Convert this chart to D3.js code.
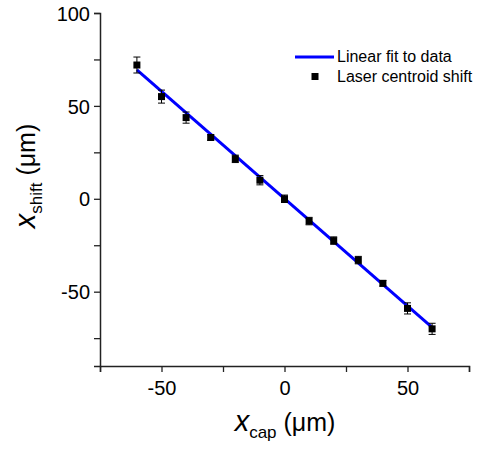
<!DOCTYPE html>
<html>
<head>
<meta charset="utf-8">
<script src="https://cdn.jsdelivr.net/npm/d3@7"></script>
<style>
  body { margin: 0; background: #fff; }
  text { font-family: "Liberation Sans", Arial, sans-serif; fill: #000; }
</style>
</head>
<body>
<div id="chart-area"></div>
<script>
// data
var xCap = [-60, -50, -40, -30, -20, -10, 0, 10, 20, 30, 40, 50, 60];
var xShift = [72, 55, 43.7, 33, 21.5, 10, 0, -12, -22.5, -33, -45.5, -59, -70];
var errors = [4.3, 3.5, 3, 1.5, 2, 2.5, 2, 2, 2, 2, 1.5, 3, 3];
var fitSlope = -1.155;
var fitIntercept = 0.1;
var xTicks = [-75, -50, -25, 0, 25, 50, 75];
var xLabels = [-50, 0, 50];
var yTicks = [100, 75, 50, 25, 0, -25, -50, -75];
var yLabels = [100, 50, 0, -50];

var width = 477, height = 455;
var margin = {left: 100, right: 8, top: 13, bottom: 89};

var svg = d3.select("#chart-area")
    .append("svg")
    .attr("width", width)
    .attr("height", height);

var x = d3.scaleLinear()
    .domain([-75, 75])
    .range([margin.left, width - margin.right]);

var y = d3.scaleLinear()
    .domain([-90, 100])
    .range([height - margin.bottom, margin.top]);

// axes
var xAxis = d3.axisBottom(x)
    .tickValues(xTicks)
    .tickSizeOuter(0)
    .tickSize(6)
    .tickFormat(function(d) { return xLabels.indexOf(d) >= 0 ? d : ""; });

var yAxis = d3.axisLeft(y)
    .tickValues(yTicks)
    .tickSizeOuter(0)
    .tickSize(6)
    .tickFormat(function(d) { return yLabels.indexOf(d) >= 0 ? d : ""; });

var gx = svg.append("g")
    .attr("transform", "translate(0," + y(-90) + ")")
    .call(xAxis);

var gy = svg.append("g")
    .attr("transform", "translate(" + x(-75) + ",0)")
    .call(yAxis);

[gx, gy].forEach(function(g) {
    g.select(".domain").attr("stroke", "#222").attr("stroke-width", 1.5);
    g.selectAll(".tick line").attr("stroke", "#222").attr("stroke-width", 1.3);
    g.selectAll(".tick text")
        .attr("font-family", "Liberation Sans, Arial, sans-serif")
        .attr("font-size", 20)
        .attr("fill", "#000");
});
gx.selectAll(".tick text").attr("dy", "1.0em");
gy.selectAll(".tick text").attr("x", -10).attr("dy", "0.36em");

// fit line
svg.append("line")
    .attr("x1", x(xCap[0]))
    .attr("y1", y(fitSlope * xCap[0] + fitIntercept))
    .attr("x2", x(xCap[xCap.length - 1]))
    .attr("y2", y(fitSlope * xCap[xCap.length - 1] + fitIntercept))
    .attr("stroke", "#0000ff")
    .attr("stroke-width", 3);

// error bars
var points = xCap.map(function(d, i) {
    return {x: d, y: xShift[i], e: errors[i]};
});

var eb = svg.selectAll("g.err")
    .data(points)
    .enter()
    .append("g")
    .attr("class", "err")
    .attr("stroke", "#000")
    .attr("stroke-width", 1);

eb.append("line")
    .attr("x1", d => x(d.x)).attr("x2", d => x(d.x))
    .attr("y1", d => y(d.y + d.e)).attr("y2", d => y(d.y - d.e));
eb.append("line")
    .attr("x1", d => x(d.x) - 3.5).attr("x2", d => x(d.x) + 3.5)
    .attr("y1", d => y(d.y + d.e)).attr("y2", d => y(d.y + d.e));
eb.append("line")
    .attr("x1", d => x(d.x) - 3.5).attr("x2", d => x(d.x) + 3.5)
    .attr("y1", d => y(d.y - d.e)).attr("y2", d => y(d.y - d.e));

// markers
svg.selectAll("rect.pt")
    .data(points)
    .enter()
    .append("rect")
    .attr("class", "pt")
    .attr("x", d => x(d.x) - 3.5)
    .attr("y", d => y(d.y) - 3.5)
    .attr("width", 7)
    .attr("height", 7)
    .attr("fill", "#000");

// legend
var legend = svg.append("g");
legend.append("line")
    .attr("x1", 295).attr("x2", 334)
    .attr("y1", 57).attr("y2", 57)
    .attr("stroke", "#0000ff").attr("stroke-width", 3);
legend.append("text")
    .attr("x", 337).attr("y", 62)
    .attr("font-size", 16)
    .text("Linear fit to data");
legend.append("rect")
    .attr("x", 311.5).attr("y", 73)
    .attr("width", 7).attr("height", 7)
    .attr("fill", "#000");
legend.append("text")
    .attr("x", 337).attr("y", 82)
    .attr("font-size", 16)
    .text("Laser centroid shift");

// axis titles
var xt = svg.append("text")
    .attr("x", 285)
    .attr("y", 431)
    .attr("text-anchor", "middle")
    .attr("font-size", 25);
xt.append("tspan").attr("font-style", "italic").attr("font-size", 29).text("x");
xt.append("tspan").attr("font-size", 17).attr("dy", 7).text("cap");
xt.append("tspan").attr("dy", -7).text(" (\u03bcm)");

var yt = svg.append("text")
    .attr("transform", "translate(35,176) rotate(-90)")
    .attr("text-anchor", "middle")
    .attr("font-size", 25);
yt.append("tspan").attr("font-style", "italic").attr("font-size", 29).text("x");
yt.append("tspan").attr("font-size", 17).attr("dy", 7).text("shift");
yt.append("tspan").attr("dy", -7).text(" (\u03bcm)");
</script>
</body>
</html>
